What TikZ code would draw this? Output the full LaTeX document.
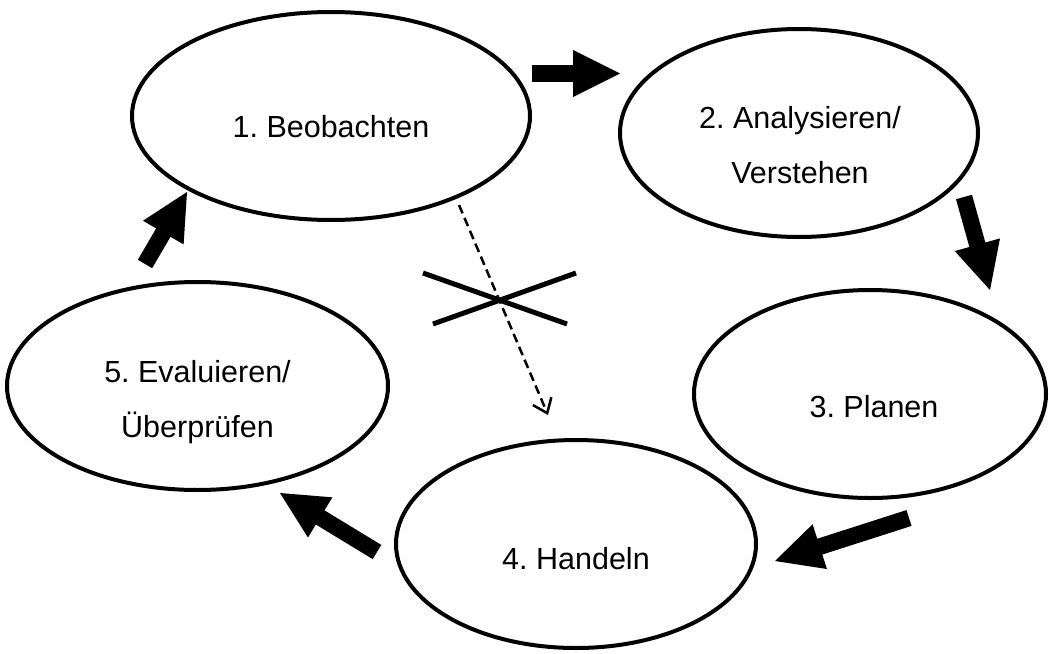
\documentclass[tikz,border=0pt]{standalone}
\usepackage{fontspec}
\setmainfont{Liberation Sans}
\usetikzlibrary{shapes.geometric,calc,arrows.meta}
\frenchspacing

\newcommand{\blockarrow}[2]{%
  \coordinate (ba-h) at ($(#2)!47pt!(#1)$);
  \fill ($(#1)!8.3pt!90:(#2)$) -- ($(ba-h)!8.3pt!-90:(#1)$) -- ($(ba-h)!23.5pt!-90:(#1)$) -- (#2)
     -- ($(ba-h)!23.5pt!90:(#1)$) -- ($(ba-h)!8.3pt!90:(#1)$) -- ($(#1)!8.3pt!-90:(#2)$) -- cycle;}

\begin{document}
\begin{tikzpicture}[x=1pt,y=-1pt,
  stage/.style={ellipse, draw, line width=4pt, inner sep=0pt, fill=white},
  lbl/.style={font=\fontsize{30.5}{55}\selectfont, align=center, inner sep=0pt},
  dasharrow/.style={line width=2.5pt, dash pattern=on 9pt off 5pt, -{Straight Barb[length=13pt,width=20pt]}},
  crossline/.style={line width=5pt}]
\useasboundingbox (0,0) rectangle (1049,653);

% stages
\node[stage, minimum width=398pt, minimum height=208pt] (e1) at (331,116) {};
\node[stage, minimum width=358pt, minimum height=208pt] (e2) at (799,133) {};
\node[stage, minimum width=352pt, minimum height=208pt] (e3) at (870,394) {};
\node[stage, minimum width=360pt, minimum height=208pt] (e4) at (576,544) {};
\node[stage, minimum width=381pt, minimum height=208pt] (e5) at (197.5,386) {};

% labels
\node[lbl] (t1) at (331,127) {1. Beobachten};
\node[lbl] (t2) at (800,145) {2. Analysieren/\\Verstehen};
\node[lbl] (t3) at (874,407) {3. Planen};
\node[lbl] (t4) at (576,559) {4. Handeln};
\node[lbl] (t5) at (197.5,402) {5. Evaluieren/\\Überprüfen};

% block arrows
\coordinate (a1s) at (532,73.5);  \coordinate (a1e) at (620,73.5);
\coordinate (a2s) at (964,197);   \coordinate (a2e) at (990,290);
\coordinate (a3s) at (909,518);   \coordinate (a3e) at (775,561);
\coordinate (a4s) at (377,552);   \coordinate (a4e) at (280,493);
\coordinate (a5s) at (145,264);   \coordinate (a5e) at (187,192);
\blockarrow{a1s}{a1e}
\blockarrow{a2s}{a2e}
\blockarrow{a3s}{a3e}
\blockarrow{a4s}{a4e}
\blockarrow{a5s}{a5e}

% dashed (crossed-out) shortcut
\coordinate (ds) at (459,205);
\coordinate (de) at (548,415);
\draw[dasharrow] (ds) -- (de);
\draw[crossline] (423,273) -- (567,324);
\draw[crossline] (433,324) -- (576,273);
\end{tikzpicture}
\end{document}
